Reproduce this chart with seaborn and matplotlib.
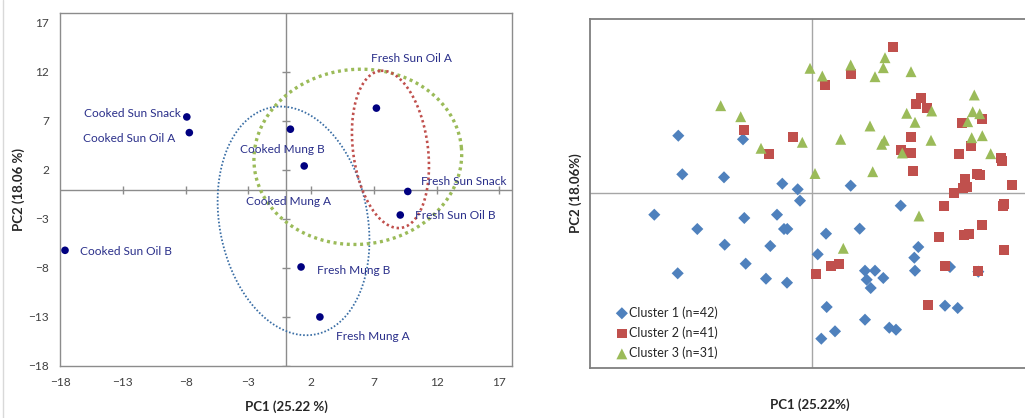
import numpy as np
import pandas as pd
import matplotlib
matplotlib.use("Agg")
import matplotlib.pyplot as plt
from matplotlib.lines import Line2D
import seaborn as sns

# --- left panel: sample scores ---
samples = ["Cooked Sun Snack", "Cooked Sun Oil A", "Cooked Mung B", "Cooked Mung A",
           "Fresh Sun Oil A", "Fresh Sun Snack", "Fresh Sun Oil B", "Cooked Sun Oil B",
           "Fresh Mung B", "Fresh Mung A"]
pc1_samples = [-7.9, -7.7, 0.35, 1.45, 7.2, 9.7, 9.1, -17.6, 1.2, 2.7]
pc2_samples = [7.4, 5.8, 6.15, 2.4, 8.3, -0.2, -2.6, -6.2, -7.9, -13.0]
# label anchor (left edge, centre) in PC units
label_x = [-16.1, -16.2, -3.7, -3.2, 6.8, 10.75, 10.3, -16.4, 2.45, 4.0]
label_y = [7.8, 5.2, 4.1, -1.2, 13.4, 0.8, -2.7, -6.3, -8.3, -15.0]
ticks_left = [-18, -13, -8, -3, 2, 7, 12, 17]

# --- right panel: cluster scores ---
c1_x = [-13.37, -6.9, -12.97, -8.8, -2.97, -1.43, 3.87, -1.2, -15.77, -6.77, -3.5, -11.47,
        -2.8, -2.47, -8.73, -4.17, -6.63, -13.43, -4.6, -2.5, 8.87, 1.4, 4.77, 0.57,
        10.63, 10.23, 10.3, 5.3, 6.3, 5.47, 7.13, 5.87, 13.8, 16.63, 1.47, 13.3,
        14.57, 5.3, 2.3, 0.93, 7.73, 8.4]
c1_y = [5.68, 5.32, 1.82, 1.52, 0.88, 0.32, 0.68, -0.82, -2.22, -2.55, -2.22, -3.65,
        -3.65, -3.65, -5.22, -5.35, -7.12, -8.08, -8.62, -9.02, -1.32, -4.12, -3.62, -6.18,
        -5.45, -6.52, -7.82, -7.82, -7.82, -8.72, -8.55, -9.55, -7.45, -7.92, -11.45, -11.32,
        -11.55, -12.72, -13.88, -14.62, -13.52, -13.72]
c2_x = [-6.8, -4.33, -1.9, 8.13, 3.87, 1.3, 10.93, 10.4, 11.5, 14.97, 16.97, 9.9,
        8.87, 9.87, 10.13, 14.73, 15.93, 18.93, 19.03, 16.47, 16.77, 15.3, 15.07, 15.47,
        19.97, 14.2, 13.23, 19.07, 19.23, 17.03, 12.67, 15.2, 15.67, 19.2, 13.3, 16.63,
        1.9, 2.73, 0.37, 11.63]
c2_y = [6.25, 3.88, 5.52, 14.58, 11.82, 10.75, 9.42, 8.88, 8.42, 6.98, 7.32, 5.52,
        4.28, 3.98, 2.18, 3.82, 4.62, 3.42, 3.15, 1.82, 1.72, 1.35, 0.48, 0.55,
        0.75, -0.08, -1.32, -1.38, -1.18, -3.25, -4.42, -4.25, -4.12, -5.72, -7.32, -7.85,
        -7.32, -7.18, -8.15, -11.25]
c3_x = [-9.13, -7.13, -5.1, -0.97, -0.2, 0.3, 1.03, 3.87, 7.3, 7.13, 6.3, 9.9,
        16.23, 16.07, 16.77, 15.57, 9.47, 10.3, 11.97, 5.8, 2.87, 7.23, 6.97, 11.9,
        9.03, 15.97, 17.03, 17.87, 6.07, 10.7, 3.13]
c3_y = [8.68, 7.58, 4.42, 5.02, 12.42, 1.9, 11.65, 12.75, 13.48, 12.48, 11.58, 12.08,
        9.75, 8.08, 7.88, 7.08, 7.92, 7.02, 8.15, 6.65, 5.32, 5.22, 4.82, 5.22,
        3.95, 5.48, 5.68, 3.88, 2.08, -2.35, -5.58]
cluster_names = ["Cluster 1 (n=42)", "Cluster 2 (n=41)", "Cluster 3 (n=31)"]

W, H = 1025, 418
sns.set_theme(style="white")
plt.rcParams["font.family"] = ["Lato", "DejaVu Sans"]

fig = plt.figure(figsize=(W / 100, H / 100), dpi=100)
ax1 = fig.add_axes([60 / W, 1 - 366 / H, 452 / W, 353 / H])
ax2 = fig.add_axes([590 / W, 1 - 368 / H, 440 / W, 349.5 / H])

# ---------------- left panel ----------------
grey = "#8c8c8c"
ax1.set_xlim(-18, 18)
ax1.set_ylim(-18, 18)
ax1.axhline(0, color=grey, lw=1, zorder=1)
ax1.axvline(0, color=grey, lw=1, zorder=1)
# cross tick marks on the zero lines
ax1.plot(ticks_left[1:], [0] * 7, ls="none", marker="|", ms=6, mew=1, color=grey, zorder=1)
ax1.plot([0] * 7, ticks_left[:-1], ls="none", marker="_", ms=6, mew=1, color=grey, zorder=1)

left_df = pd.DataFrame({"PC1": pc1_samples, "PC2": pc2_samples, "sample": samples})
sns.scatterplot(data=left_df, x="PC1", y="PC2", ax=ax1, color="#000080", s=30,
                edgecolor="none", zorder=4)
for name, lx, ly in zip(samples, label_x, label_y):
    ax1.text(lx, ly, name, color="#2a2f8a", fontsize=8.6, ha="left", va="center", zorder=5)

# confidence ellipses: centre (PC units), half axes (px), angle (deg)
px_x, px_y = 452 / 36, 353 / 36
ellipses = [
    ((0.6, -3.2), 115.6, 74, 101, "#3a6ea5", 1.3),
    ((5.72, 3.33), 104, 87.5, 5, "#9bbb59", 2.4),
    ((8.32, 4.09), 79.2, 37.4, 97.6, "#c0504d", 1.9),
]
t = np.linspace(0, 2 * np.pi, 400)
for (cx, cy), a, b, ang, col, lw in ellipses:
    phi = np.deg2rad(ang)
    dx = a * np.cos(t) * np.cos(phi) - b * np.sin(t) * np.sin(phi)
    dy = a * np.cos(t) * np.sin(phi) + b * np.sin(t) * np.cos(phi)
    ax1.plot(cx + dx / px_x, cy + dy / px_y, color=col, lw=lw, ls=(0, (0.9, 1.1)), zorder=3)

ax1.set_xticks(ticks_left)
ax1.set_yticks(ticks_left)
ax1.tick_params(length=0, labelsize=8.6, labelcolor="#404040", pad=8)
for sp in ax1.spines.values():
    sp.set_color(grey)
    sp.set_linewidth(1)
ax1.set_xlabel("PC1 (25.22 %)", fontsize=9.5, fontweight="bold", color="#262626", labelpad=9)
ax1.set_ylabel("PC2 (18.06 %)", fontsize=9.5, fontweight="bold", color="#262626", labelpad=2)

# ---------------- right panel ----------------
right_df = pd.DataFrame({
    "PC1": c1_x + c2_x + c3_x,
    "PC2": c1_y + c2_y + c3_y,
    "cluster": [cluster_names[0]] * len(c1_x) + [cluster_names[1]] * len(c2_x)
               + [cluster_names[2]] * len(c3_x),
})
pal = {cluster_names[0]: "#4f81bd", cluster_names[1]: "#c0504d", cluster_names[2]: "#9bbb59"}
mk = {cluster_names[0]: "D", cluster_names[1]: "s", cluster_names[2]: "^"}
sizes = {cluster_names[0]: 38, cluster_names[1]: 48, cluster_names[2]: 62}
for name in cluster_names:
    sub = right_df[right_df["cluster"] == name]
    sns.scatterplot(data=sub, x="PC1", y="PC2", ax=ax2, color=pal[name], marker=mk[name],
                    s=sizes[name], edgecolor="none", label=name, zorder=3)
ax2.set_xlim(-22.2, 21.8)
ax2.set_ylim(-17.55, 17.4)
ax2.axhline(0, color="#a6a6a6", lw=1, zorder=1)
ax2.axvline(0, color="#a6a6a6", lw=1, zorder=1)
ax2.set_xticks([])
ax2.set_yticks([])
for sp in ax2.spines.values():
    sp.set_color("#7f7f7f")
    sp.set_linewidth(1.3)
ax2.set_xlabel("PC1 (25.22%)", fontsize=9.5, fontweight="bold", color="#262626", labelpad=22)
ax2.set_ylabel("PC2 (18.06%)", fontsize=9.5, fontweight="bold", color="#262626", labelpad=6)
ax2.legend(loc="lower left", bbox_to_anchor=(0.044, 0.011), frameon=False, fontsize=9,
           handletextpad=0.0, labelspacing=0.62, handlelength=1.2, borderaxespad=0,
           labelcolor="#262626")

# faint chart-area border on the far left
fig.add_artist(Line2D([3 / W, 3 / W], [0, 1], color="#d9d9d9", lw=1))

fig.savefig("out.png", dpi=100)
